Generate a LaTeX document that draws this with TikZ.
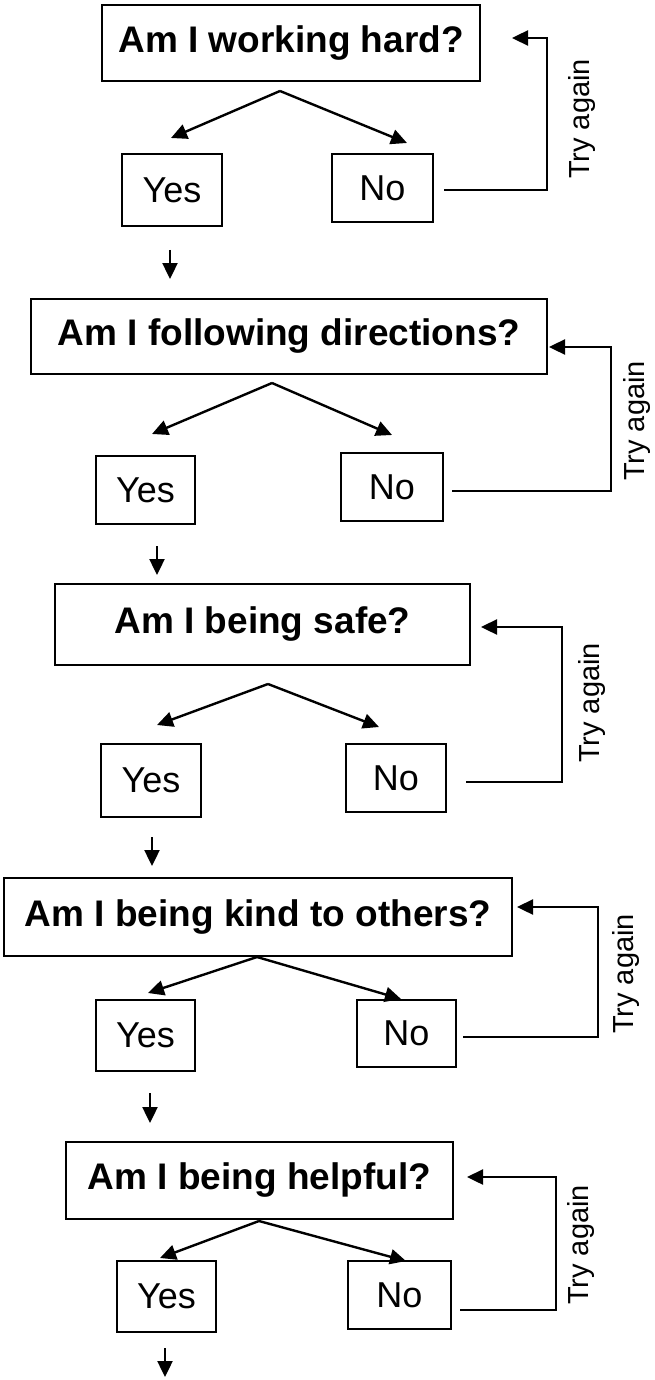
\documentclass[tikz,border=0pt]{standalone}
\usepackage{fontspec}
\setmainfont{Liberation Sans}
\usetikzlibrary{arrows.meta}

\begin{document}
\begin{tikzpicture}[x=1pt, y=-1pt, line width=2.4pt,
  qbox/.style={draw, line width=2.6pt, inner sep=0pt, font=\fontsize{37}{40}\selectfont\bfseries},
  ansbox/.style={draw, line width=2.6pt, inner sep=0pt, font=\fontsize{36}{40}\selectfont},
  tryl/.style={rotate=90, inner sep=0pt, font=\fontsize{29}{32}\selectfont},
  arr/.style={line width=2.4pt, -{Triangle[length=16pt,width=15pt]}}]

  %% ════ 1: working hard ════
  \node[qbox, minimum width=378pt, minimum height=76pt] (q1) at (291,43) {Am I working hard?};
  \node[ansbox, minimum width=100pt, minimum height=72pt] (yes1) at (172,190) {Yes};
  \node[ansbox, minimum width=101pt, minimum height=68pt] (no1) at (382.5,188) {No};
  \node[tryl] (t1) at (582,119) {Try again};
  \coordinate (a1) at (280,91);
  \coordinate (ty1) at (171,138);
  \coordinate (tn1) at (407,143);
  \coordinate (s1) at (444,190);   % loop start
  \coordinate (c1) at (547,38);    % loop corner
  \coordinate (e1) at (512,38);    % loop tip
  \coordinate (d1) at (170,250);
  \draw[arr] (a1) -- (ty1);
  \draw[arr] (a1) -- (tn1);
  \draw[arr] (s1) -| (c1) -- (e1);
  \draw[arr] (d1) -- ++(0,29);

  %% ════ 2: following directions ════
  \node[qbox, minimum width=516pt, minimum height=75pt] (q2) at (289,336.5) {Am I following directions?};
  \node[ansbox, minimum width=99pt, minimum height=68pt] (yes2) at (145.5,490) {Yes};
  \node[ansbox, minimum width=102pt, minimum height=68pt] (no2) at (392,487) {No};
  \node[tryl] (t2) at (637,421) {Try again};
  \coordinate (a2) at (272,383);
  \coordinate (ty2) at (152,434);
  \coordinate (tn2) at (392,435);
  \coordinate (s2) at (452,491);
  \coordinate (c2) at (611,347);
  \coordinate (e2) at (549,347);
  \coordinate (d2) at (157,546);
  \draw[arr] (a2) -- (ty2);
  \draw[arr] (a2) -- (tn2);
  \draw[arr] (s2) -| (c2) -- (e2);
  \draw[arr] (d2) -- ++(0,29);

  %% ════ 3: being safe ════
  \node[qbox, minimum width=415pt, minimum height=81pt] (q3) at (262.5,624.5) {Am I being safe?};
  \node[ansbox, minimum width=100pt, minimum height=73pt] (yes3) at (151,780.5) {Yes};
  \node[ansbox, minimum width=100pt, minimum height=68pt] (no3) at (396,778) {No};
  \node[tryl] (t3) at (592,703) {Try again};
  \coordinate (a3) at (268,684);
  \coordinate (ty3) at (157,725);
  \coordinate (tn3) at (379,727);
  \coordinate (s3) at (466,782);
  \coordinate (c3) at (562,627);
  \coordinate (e3) at (481,627);
  \coordinate (d3) at (152,837);
  \draw[arr] (a3) -- (ty3);
  \draw[arr] (a3) -- (tn3);
  \draw[arr] (s3) -| (c3) -- (e3);
  \draw[arr] (d3) -- ++(0,29);

  %% ════ 4: kind to others ════
  \node[qbox, minimum width=508pt, minimum height=78pt] (q4) at (258,917) {Am I being kind to others?};
  \node[ansbox, minimum width=99pt, minimum height=71pt] (yes4) at (145.5,1035.5) {Yes};
  \node[ansbox, minimum width=99pt, minimum height=67pt] (no4) at (406.5,1033.5) {No};
  \node[tryl] (t4) at (626,974) {Try again};
  \coordinate (a4) at (257,957);
  \coordinate (ty4) at (148,993);
  \coordinate (tn4) at (401,999);
  \coordinate (s4) at (463,1037);
  \coordinate (c4) at (598,907);
  \coordinate (e4) at (517,907);
  \coordinate (d4) at (150,1093);
  \draw[arr] (a4) -- (ty4);
  \draw[arr] (a4) -- (tn4);
  \draw[arr] (s4) -| (c4) -- (e4);
  \draw[arr] (d4) -- ++(0,30);

  %% ════ 5: being helpful ════
  \node[qbox, minimum width=387pt, minimum height=77pt] (q5) at (259.5,1180.5) {Am I being helpful?};
  \node[ansbox, minimum width=99pt, minimum height=71pt] (yes5) at (166.5,1296.5) {Yes};
  \node[ansbox, minimum width=103pt, minimum height=68pt] (no5) at (399.5,1295) {No};
  \node[tryl] (t5) at (581,1245) {Try again};
  \coordinate (a5) at (259,1221);
  \coordinate (ty5) at (160,1258);
  \coordinate (tn5) at (406,1261);
  \coordinate (s5) at (460,1310);
  \coordinate (c5) at (556,1177);
  \coordinate (e5) at (467,1177);
  \coordinate (d5) at (165,1348);
  \draw[arr] (a5) -- (ty5);
  \draw[arr] (a5) -- (tn5);
  \draw[arr] (s5) -| (c5) -- (e5);
  \draw[arr] (d5) -- ++(0,29);

  % fix the canvas to the reference size
  \pgfresetboundingbox
  \path[use as bounding box] (0,0) rectangle (654,1380);
\end{tikzpicture}
\end{document}
